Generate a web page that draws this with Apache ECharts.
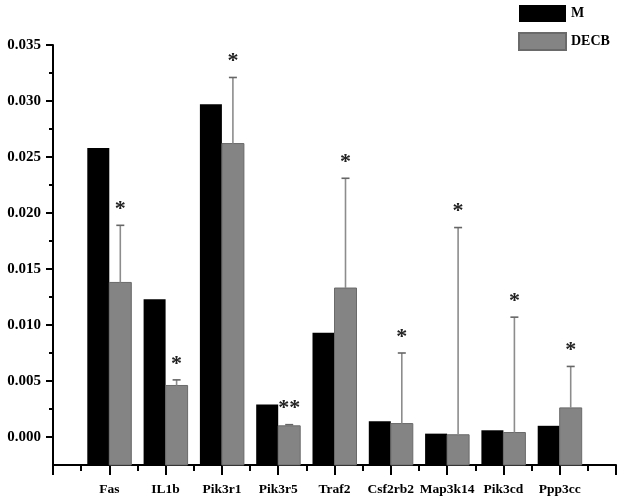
<!DOCTYPE html>
<html>
<head>
<meta charset="utf-8">
<script src="https://cdn.jsdelivr.net/npm/echarts@6/dist/echarts.min.js"></script>
<style>html,body{margin:0;padding:0;background:#fff}#c{width:625px;height:501px}</style>
</head>
<body>
<div id="c"></div>
<script>
var categories = ['Fas', 'IL1b', 'Pik3r1', 'Pik3r5', 'Traf2', 'Csf2rb2', 'Map3k14', 'Pik3cd', 'Ppp3cc'];
var mValues = [0.0258, 0.0123, 0.0297, 0.0029, 0.0093, 0.0014, 0.0003, 0.0006, 0.0010];
var decbValues = [0.0138, 0.0046, 0.0262, 0.0010, 0.0133, 0.0012, 0.0002, 0.0004, 0.0026];
var decbErrors = [0.0051, 0.0005, 0.0059, 0.0001, 0.0098, 0.0063, 0.0185, 0.0103, 0.0037];
var significance = ['*', '*', '*', '**', '*', '*', '*', '*', '*'];
var yTickLabels = [0, 0.005, 0.010, 0.015, 0.020, 0.025, 0.030, 0.035];
var yMinorTicks = [0.0025, 0.0075, 0.0125, 0.0175, 0.0225, 0.0275, 0.0325];
var yMin = -0.0025, yMax = 0.035;

var font = 'Liberation Serif';
var chart = echarts.init(document.getElementById('c'), null, {renderer: 'canvas'});

var mData = mValues.map(function (v, i) { return [i + 1, v]; });
var dData = decbValues.map(function (v, i) { return [i + 1, v]; });
var errData = decbValues.map(function (v, i) { return [i + 1, v, v + decbErrors[i], i]; });

function barRenderer(offset) {
  return function (params, api) {
    var x = api.value(0);
    var top = api.coord([x, api.value(1)]);
    var base = api.coord([x, yMin]);
    var bw = 22;
    return {
      type: 'rect',
      shape: {x: top[0] + offset * bw, y: top[1], width: bw, height: base[1] - top[1]},
      style: api.style()
    };
  };
}

var option = {
  animation: false,
  backgroundColor: '#fff',
  legend: {
    orient: 'vertical',
    left: 513,
    top: 0,
    itemWidth: 47,
    itemHeight: 17,
    itemGap: 10,
    icon: 'rect',
    textStyle: {fontFamily: font, fontWeight: 'bold', fontSize: 14, color: '#000'},
    data: ['M', 'DECB']
  },
  grid: {left: 53, right: 9, top: 45, bottom: 36, containLabel: false},
  xAxis: {
    type: 'value',
    min: 0,
    max: 10,
    interval: 1,
    axisLine: {show: true, onZero: false, lineStyle: {color: '#000', width: 2}},
    axisTick: {show: true, length: 10, lineStyle: {color: '#000', width: 2}},
    minorTick: {show: true, splitNumber: 2, length: 6, lineStyle: {color: '#000', width: 2}},
    splitLine: {show: false},
    axisLabel: {
      margin: 18,
      fontFamily: font, fontWeight: 'bold', fontSize: 13.5, color: '#000',
      formatter: function (v) { return categories[v - 1] || ''; }
    }
  },
  yAxis: [{
    type: 'value',
    min: yMin,
    max: yMax,
    axisLine: {show: true, onZero: false, lineStyle: {color: '#000', width: 2}},
    axisTick: {show: true, length: 7, customValues: yTickLabels, lineStyle: {color: '#000', width: 2}},
    splitLine: {show: false},
    axisLabel: {
      customValues: yTickLabels,
      margin: 12,
      fontFamily: font, fontWeight: 'bold', fontSize: 15, color: '#000',
      formatter: function (v) { return v.toFixed(3); }
    }
  }, {
    type: 'value',
    position: 'left',
    min: yMin,
    max: yMax,
    axisLine: {show: false},
    axisTick: {show: true, length: 4, customValues: yMinorTicks, lineStyle: {color: '#000', width: 2}},
    splitLine: {show: false},
    axisLabel: {show: false}
  }],
  series: [{
    name: 'M',
    type: 'custom',
    data: mData,
    encode: {x: 0, y: 1},
    renderItem: barRenderer(-1),
    itemStyle: {color: '#000', borderColor: '#000', borderWidth: 0}
  }, {
    name: 'DECB',
    type: 'custom',
    data: dData,
    encode: {x: 0, y: 1},
    renderItem: barRenderer(0),
    itemStyle: {color: '#848484', borderColor: '#6a6a6a', borderWidth: 1}
  }, {
    name: 'err',
    type: 'custom',
    data: errData,
    encode: {x: 0, y: [1, 2]},
    z: 5,
    renderItem: function (params, api) {
      var x = api.value(0);
      var lo = api.coord([x, api.value(1)]);
      var hi = api.coord([x, api.value(2)]);
      var cx = lo[0] + 11;
      var idx = api.value(3);
      return {
        type: 'group',
        children: [{
          type: 'line',
          shape: {x1: cx, y1: lo[1], x2: cx, y2: hi[1]},
          style: {stroke: '#8c8c8c', lineWidth: 1.6}
        }, {
          type: 'line',
          shape: {x1: cx - 4, y1: hi[1], x2: cx + 4, y2: hi[1]},
          style: {stroke: '#666', lineWidth: 1.6}
        }, {
          type: 'text',
          style: {
            x: cx, y: hi[1] - 5,
            text: significance[idx],
            fill: '#222',
            font: 'bold 22px "Liberation Serif"',
            align: 'center',
            verticalAlign: 'bottom'
          }
        }]
      };
    }
  }]
};
chart.setOption(option);
</script>
</body>
</html>
